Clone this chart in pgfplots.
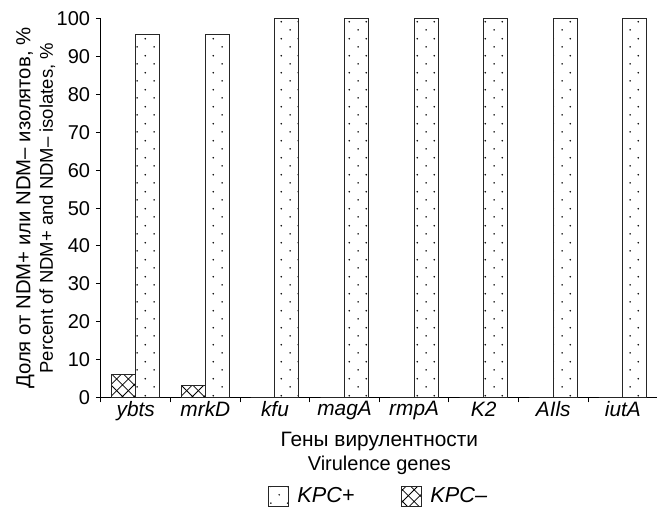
\documentclass[border=0pt]{standalone}
\usepackage{fontspec}
\setmainfont{Liberation Sans}
\usepackage{pgfplots}
\pgfplotsset{compat=1.18}
\usetikzlibrary{patterns}

% sparse staggered dots (KPC+)
\pgfdeclarepatternformonly{sparsedots}{\pgfpointorigin}{\pgfpoint{10pt}{10pt}}{\pgfpoint{10pt}{10pt}}{%
  \pgfpathcircle{\pgfpoint{2.5pt}{2.5pt}}{0.5pt}%
  \pgfpathcircle{\pgfpoint{7.5pt}{7.5pt}}{0.5pt}%
  \pgfusepath{fill}}
% diagonal crosshatch (KPC-)
\pgfdeclarepatternformonly{xhatch}{\pgfpoint{-0.5pt}{-0.5pt}}{\pgfpoint{7.5pt}{7.5pt}}{\pgfpoint{7pt}{7pt}}{%
  \pgfsetlinewidth{0.45pt}%
  \pgfpathmoveto{\pgfpoint{0pt}{0pt}}\pgfpathlineto{\pgfpoint{7pt}{7pt}}%
  \pgfpathmoveto{\pgfpoint{0pt}{7pt}}\pgfpathlineto{\pgfpoint{7pt}{0pt}}%
  \pgfusepath{stroke}}

\begin{document}
\begin{tikzpicture}
\begin{axis}[
  scale only axis, width=334pt, height=227pt,
  ybar=0pt, bar width=0.345,
  xmin=-0.5, xmax=7.5, ymin=0, ymax=100,
  ytick={0,10,...,100},
  xtick={-0.5,0.5,...,6.5}, xticklabels={},
  extra x ticks={0,1,...,7},
  extra x tick labels={ybts,mrkD,kfu,magA,rmpA,K2,AIls,iutA},
  extra x tick style={major tick length=0pt, tick label style={font=\fontsize{12.5}{14}\selectfont\itshape, yshift=1pt}},
  axis x line*=bottom, axis y line*=left,
  axis line style={-, line width=0.6pt},
  tick align=outside, major tick length=3pt,
  tick style={black, line width=0.6pt},
  /pgf/number format/assume math mode=true,
  yticklabel style={font=\fontsize{12}{14}\selectfont},
  ylabel style={align=center, yshift=-6pt},
  ylabel={\fontsize{12.2}{13}\selectfont Доля от NDM+ или NDM– изолятов, \%\\[1.5pt]
          \fontsize{11.1}{12}\selectfont Percent of NDM+ and NDM– isolates, \%},
  xlabel style={align=center, yshift=3pt},
  xlabel={\fontsize{12.5}{14}\selectfont Гены вирулентности\\[2pt]
          \fontsize{12}{14}\selectfont Virulence genes},
  legend columns=2, reverse legend,
  legend style={at={(0.5,-0.262)}, anchor=center, draw=none, fill=none,
    font=\fontsize{13}{15}\selectfont\itshape,
    /tikz/every odd column/.append style={column sep=3pt},
    /tikz/every even column/.append style={column sep=26pt}},
  legend image code/.code={\draw[#1, line width=0.5pt] (0pt,-6pt) rectangle (12pt,6pt);},
  clip=false,
]
\addplot[draw=black!85, line width=0.6pt, pattern=xhatch] coordinates
  {(0,6) (1,3) (2,0) (3,0) (4,0) (5,0) (6,0) (7,0)};
\addplot[draw=black!85, line width=0.6pt, pattern=sparsedots] coordinates
  {(0,96) (1,96) (2,100) (3,100) (4,100) (5,100) (6,100) (7,100)};
\legend{KPC–,KPC+}
\end{axis}
\pgfresetboundingbox
\path (-60.6pt,-66pt) rectangle (333.6pt,238.4pt);
\end{tikzpicture}
\end{document}
